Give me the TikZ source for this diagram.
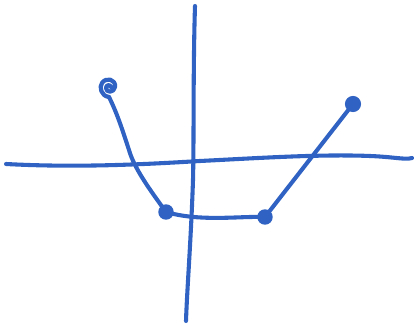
\documentclass[tikz,border=0pt]{standalone}
\usetikzlibrary{calc}
\definecolor{Pen}{HTML}{2F62C2}
\tikzset{
  ink/.style={draw=Pen,line width=2.9pt,line cap=round,line join=round},
  dot/.style={circle,fill=Pen,inner sep=0pt,minimum size=11pt}
}
\begin{document}
\begin{tikzpicture}[x=0.025cm,y=-0.025cm]
  \useasboundingbox (0,0) rectangle (416,326);
  % axes
  \draw[ink] (6,164) .. controls (80,168) and (150,164) .. (200,161)
        .. controls (260,158) and (320,154) .. (370,156)
        .. controls (395,157) and (405,160) .. (412,158);
  \draw[ink] (195,6) .. controls (193,70) and (194,140) .. (193,180)
        .. controls (191,240) and (187,290) .. (186,321);
  % points
  \node[dot] (b) at (166,212) {};
  \node[dot] (c) at (265,217) {};
  \node[dot,minimum size=11.5pt] (d) at (353,104) {};
  \coordinate (a) at (108,90);
  % open end
  \draw[ink,line width=3pt] (109,97) .. controls (101,96) and (99,87) .. (102,83)
        .. controls (106,77) and (116,79) .. (115,87)
        .. controls (114,93) and (106,93) .. (106,88)
        .. controls (106,85) and (110,84) .. (111,87);
  % graph
  \draw[ink] (109,97) .. controls (118,115) and (124,135) .. (129,150)
        .. controls (134,168) and (150,190) .. (b.center);
  \draw[ink] (b.center) .. controls (200,222) and (240,216) .. (c.center);
  \draw[ink] (c.center) -- (d.center);
\end{tikzpicture}
\end{document}
